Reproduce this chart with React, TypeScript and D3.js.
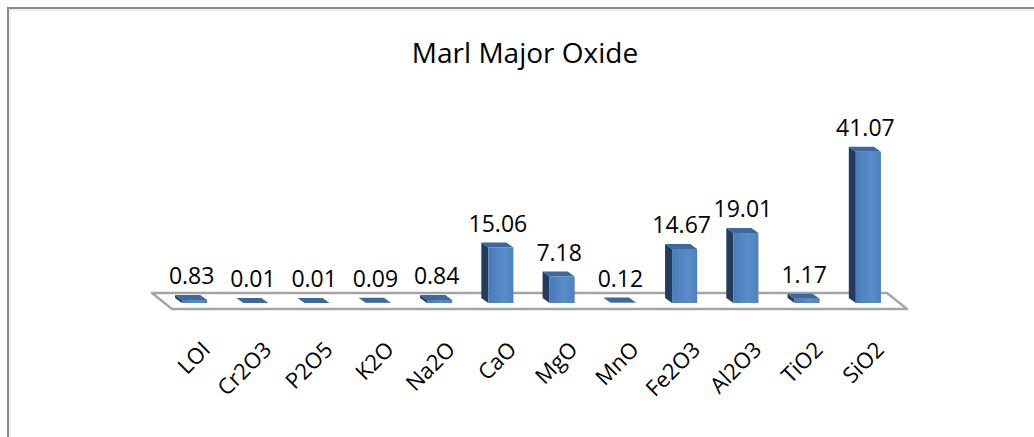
import * as d3 from "d3";

const categories = ["LOI", "Cr2O3", "P2O5", "K2O", "Na2O", "CaO", "MgO", "MnO", "Fe2O3", "Al2O3", "TiO2", "SiO2"];
const values = [0.83, 0.01, 0.01, 0.09, 0.84, 15.06, 7.18, 0.12, 14.67, 19.01, 1.17, 41.07];
const valueLabels = ["0.83", "0.01", "0.01", "0.09", "0.84", "15.06", "7.18", "0.12", "14.67", "19.01", "1.17", "41.07"];

const W = 1034;
const H = 437;
const font = "'Open Sans', sans-serif";

// floor (front edge) and depth offsets
const floorFrontY = 309;
const floorDepth = { dx: -20, dy: -16 };
const barDepth = { dx: -7, dy: -5 };
const baseY = 303;

export default function App() {
  const x = d3.scaleBand<string>().domain(categories).range([172, 907]).padding(0);
  const y = d3.scaleLinear().domain([0, 50]).range([baseY, baseY - 184]);
  const barW = x.bandwidth() * 0.41;
  const shiftX = -8;

  const [fx0, fx1] = x.range();
  const floor = [
    [fx0, floorFrontY],
    [fx1, floorFrontY],
    [fx1 + floorDepth.dx, floorFrontY + floorDepth.dy],
    [fx0 + floorDepth.dx, floorFrontY + floorDepth.dy],
  ]
    .map((p) => p.join(","))
    .join(" ");

  return (
    <svg
      width={W}
      height={H}
      style={{ position: "absolute", left: 0, top: 0, background: "#fff" }}
    >
      <defs>
        <linearGradient id="front" x1="0" x2="1" y1="0" y2="0">
          <stop offset="0%" stopColor="#4a7bb7" />
          <stop offset="60%" stopColor="#5a8ccb" />
          <stop offset="100%" stopColor="#4f81bd" />
        </linearGradient>
      </defs>
      {/* chart frame, cut by the window on the right and bottom */}
      <rect x={8} y={8} width={W + 20} height={H + 20} fill="none" stroke="#8a8a8a" strokeWidth={2} />
      <line x1={10} y1={10} x2={W} y2={10} stroke="#e0e0e0" />
      <line x1={10} y1={10} x2={10} y2={H} stroke="#e0e0e0" />

      <text x={525} y={63} textAnchor="middle" fontFamily={font} fontSize={28} fill="#000">
        Marl Major Oxide
      </text>

      {/* floor */}
      <polygon points={floor} fill="#fff" stroke="#a6a6a6" strokeWidth={2.5} strokeLinejoin="round" />

      {categories.map((c, i) => {
        const x0 = (x(c) as number) + (x.bandwidth() - barW) / 2 + shiftX;
        const yTop = y(values[i]);
        const { dx, dy } = barDepth;
        const side = `${x0},${baseY} ${x0},${yTop} ${x0 + dx},${yTop + dy} ${x0 + dx},${baseY + dy}`;
        const top = `${x0},${yTop} ${x0 + barW},${yTop} ${x0 + barW + dx},${yTop + dy} ${x0 + dx},${yTop + dy}`;
        return (
          <g key={c}>
            <polygon points={side} fill="#243c5c" />
            <rect x={x0} y={yTop} width={barW} height={baseY - yTop} fill="url(#front)" />
            <polygon points={top} fill="#3b689e" />
            <text
              x={x0 + barW / 2 - 3}
              y={yTop - 16}
              textAnchor="middle"
              fontFamily={font}
              fontSize={23}
              fill="#000"
            >
              {valueLabels[i]}
            </text>
          </g>
        );
      })}

      {categories.map((c) => {
        const cx = (x(c) as number) + x.bandwidth() / 2 + shiftX + 17;
        const cy = 351;
        return (
          <text
            key={c}
            transform={`translate(${cx},${cy}) rotate(-45)`}
            textAnchor="end"
            fontFamily={font}
            fontSize={22}
            fill="#000"
          >
            {c}
          </text>
        );
      })}
    </svg>
  );
}
